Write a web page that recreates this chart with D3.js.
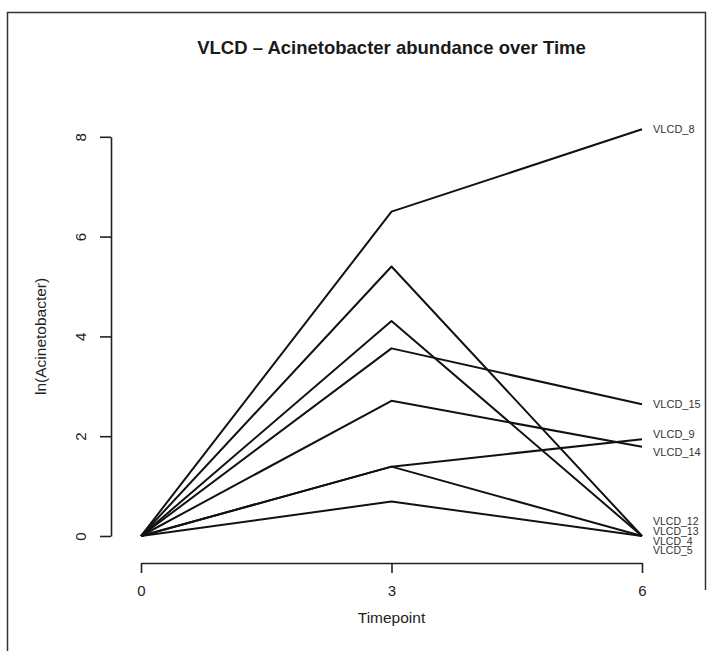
<!DOCTYPE html>
<html>
<head>
<meta charset="utf-8">
<script src="https://cdn.jsdelivr.net/npm/d3@7"></script>
<style>
  html, body { margin: 0; padding: 0; background: #fff; }
  svg { display: block; font-family: "Liberation Sans", Arial, Helvetica, sans-serif; }
</style>
</head>
<body>
<svg id="chart" width="712" height="651"></svg>
<script>
// ---- data ----
const timepoints = [0, 3, 6];
const subjects = ["VLCD_8", "VLCD_15", "VLCD_9", "VLCD_14", "VLCD_12", "VLCD_13", "VLCD_4", "VLCD_5"];
const VLCD_8  = [0, 6.50, 8.15];
const VLCD_15 = [0, 3.76, 2.64];
const VLCD_9  = [0, 1.39, 1.94];
const VLCD_14 = [0, 2.71, 1.79];
const VLCD_12 = [0, 5.40, 0];
const VLCD_13 = [0, 4.31, 0];
const VLCD_4  = [0, 1.39, 0];
const VLCD_5  = [0, 0.69, 0];
const seriesValues = [VLCD_8, VLCD_15, VLCD_9, VLCD_14, VLCD_12, VLCD_13, VLCD_4, VLCD_5];
const xTicks = [0, 3, 6];
const yTicks = [0, 2, 4, 6, 8];
const titleText = "VLCD \u2013 Acinetobacter abundance over Time";
const xLabel = "Timepoint";
const yLabel = "ln(Acinetobacter)";

// ---- layout ----
const svg = d3.select("#chart");
const x = d3.scaleLinear().domain([0, 6]).range([141, 642]);
const y = d3.scaleLinear().domain([0, 8]).range([536, 136.8]);
const yAxisX = 111, xAxisY = 563;

// outer frame (partial, as in the scanned figure)
svg.append("path")
  .attr("d", "M7.5,651 L7.5,12.5 L705.5,12.5 L705.5,590")
  .attr("fill", "none").attr("stroke", "#333").attr("stroke-width", 1.5);

// title
svg.append("text")
  .attr("x", (x(0) + x(6)) / 2).attr("y", 54)
  .attr("text-anchor", "middle")
  .attr("font-size", 18.5).attr("font-weight", "bold").attr("fill", "#1a1a1a")
  .text(titleText);

// y axis
const gy = svg.append("g").attr("transform", `translate(${yAxisX},0)`)
  .call(d3.axisLeft(y).tickValues(yTicks).tickSize(11).tickSizeOuter(0).tickFormat(d3.format("d")));
gy.select(".domain").attr("stroke", "#222").attr("stroke-width", 1.6);
gy.selectAll(".tick line").attr("stroke", "#222").attr("stroke-width", 1.6);
gy.selectAll(".tick text")
  .attr("transform", "rotate(-90)")
  .attr("x", 0).attr("y", -25).attr("dy", 0)
  .attr("text-anchor", "middle")
  .attr("font-size", 15).attr("fill", "#222")
  .attr("font-family", "Liberation Sans, Arial, sans-serif");

// x axis
const gx = svg.append("g").attr("transform", `translate(0,${xAxisY})`)
  .call(d3.axisBottom(x).tickValues(xTicks).tickSize(10).tickPadding(12).tickSizeOuter(0).tickFormat(d3.format("d")));
gx.select(".domain").attr("stroke", "#222").attr("stroke-width", 1.6);
gx.selectAll(".tick line").attr("stroke", "#222").attr("stroke-width", 1.6);
gx.selectAll(".tick text")
  .attr("font-size", 15).attr("fill", "#222")
  .attr("font-family", "Liberation Sans, Arial, sans-serif");

// axis titles
svg.append("text")
  .attr("x", (x(0) + x(6)) / 2).attr("y", 623)
  .attr("text-anchor", "middle").attr("font-size", 15.5).attr("fill", "#222")
  .text(xLabel);
svg.append("text")
  .attr("transform", `translate(46,${(y(0) + y(8)) / 2}) rotate(-90)`)
  .attr("text-anchor", "middle").attr("font-size", 15.5).attr("fill", "#222")
  .text(yLabel);

// lines
const line = d3.line().x((d, i) => x(timepoints[i])).y(d => y(d));
svg.append("g").selectAll("path")
  .data(seriesValues)
  .join("path")
  .attr("d", d => line(d))
  .attr("fill", "none").attr("stroke", "#111").attr("stroke-width", 2)
  .attr("stroke-linejoin", "round");

// end labels with simple spreading
const last = timepoints.length - 1;
const labels = subjects.map((name, i) => ({ name, v: seriesValues[i][last], ty: y(seriesValues[i][last]) }));
// stack tied end values
d3.groups(labels, d => d.v).forEach(([v, arr]) => {
  const gap = 9.8;
  arr.forEach((d, j) => { d.ly = d.ty + (j - (arr.length - 1) / 2) * gap; d.tied = arr.length > 1; });
});
// separate neighbouring single labels
const singles = labels.filter(d => !d.tied).sort((a, b) => a.ty - b.ty);
const minGap = 17.6;
for (let iter = 0; iter < 20; iter++) {
  for (let k = 1; k < singles.length; k++) {
    const a = singles[k - 1], b = singles[k];
    const d = b.ly - a.ly;
    if (d < minGap) { const push = (minGap - d) / 2; a.ly -= push; b.ly += push; }
  }
}
svg.append("g").selectAll("text")
  .data(labels)
  .join("text")
  .attr("x", x(6) + 11)
  .attr("y", d => d.ly)
  .attr("dy", "0.35em")
  .attr("font-size", d => d.tied ? 10.5 : 11).attr("fill", "#333")
  .text(d => d.name);
</script>
</body>
</html>
